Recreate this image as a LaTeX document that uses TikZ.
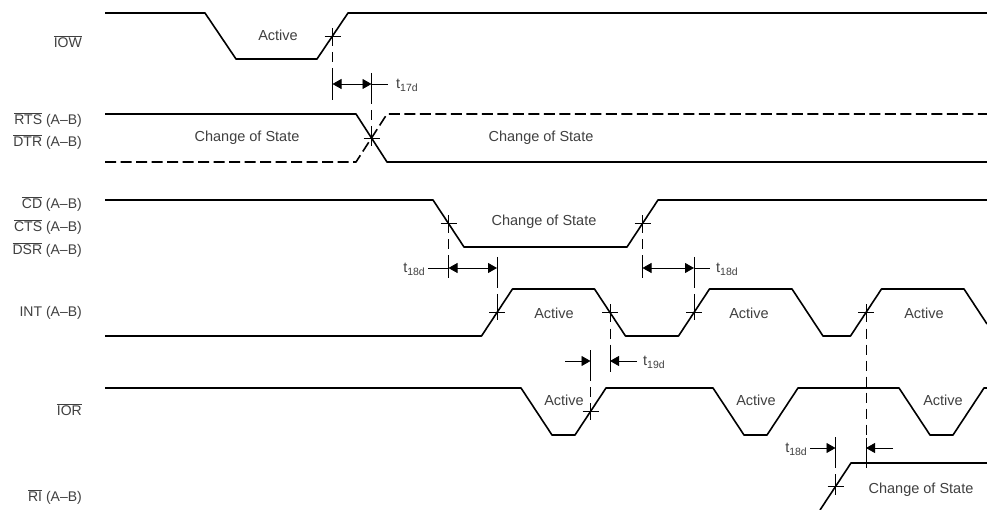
\documentclass[tikz,border=0pt]{standalone}
\usepackage{fontspec}
\setmainfont{Liberation Sans}
\usetikzlibrary{arrows.meta}

\tikzset{
  sig/.style={line width=1.6pt, line join=round},
  sigdash/.style={sig, dash pattern=on 11pt off 4.5pt},
  guide/.style={line width=0.8pt, dash pattern=on 10pt off 6pt},
  tick/.style={line width=0.8pt},
  dim/.style={line width=0.8pt, {Triangle[length=9pt,width=10pt]}-{Triangle[length=9pt,width=10pt]}},
  dimin/.style={line width=0.8pt, -{Triangle[length=9pt,width=10pt]}},
  sname/.style={anchor=east, text=black!75, inner sep=0pt, font=\fontsize{14}{16}\selectfont},
  stxt/.style={text=black!75, inner sep=0pt, font=\fontsize{14.5}{17}\selectfont},
  tlab/.style={text=black!75, inner sep=0pt, font=\fontsize{14.5}{17}\selectfont}
}
\newcommand{\ovl}[1]{$\overline{\mbox{#1}}$}
\newcommand{\tsub}[1]{t\raisebox{-0.45ex}{\fontsize{10.5}{12}\selectfont #1}}
\newcommand{\crossat}[1]{\draw[tick] (#1) +(-8,0) -- +(8,0) (#1) +(0,-8) -- +(0,8);}

\begin{document}
\begin{tikzpicture}[x=1pt,y=-1pt]
\fill[white] (0,0) rectangle (987,510);
\useasboundingbox (0,0) rectangle (987,510);

% signal names
\node[sname] (nIOW) at (82,42) {\ovl{IOW}};
\node[sname] (nRTS) at (82,120) {\ovl{RTS} (A--B)};
\node[sname] (nDTR) at (82,142) {\ovl{DTR} (A--B)};
\node[sname] (nCD) at (82,204) {\ovl{CD} (A--B)};
\node[sname] (nCTS) at (82,227) {\ovl{CTS} (A--B)};
\node[sname] (nDSR) at (82,250) {\ovl{DSR} (A--B)};
\node[sname] (nINT) at (82,313) {INT (A--B)};
\node[sname] (nIOR) at (82,410) {\ovl{IOR}};
\node[sname] (nRI) at (82,497) {\ovl{RI} (A--B)};

% IOW
\draw[sig] (105,13) -- (205,13) -- (236,59) -- (317,59) -- (348,13) -- (987,13);
\coordinate (iowX) at (332.5,36);
\node[stxt] (actW) at (278,35) {Active};

% RTS / DTR
\draw[sig] (105,114) -- (356,114) -- (387,162) -- (987,162);
\draw[sigdash] (105,162) -- (356,162) -- (387,114) -- (987,114);
\coordinate (rtsX) at (371.5,138);
\node[stxt] (cosA) at (247,138) {Change of State};
\node[stxt] (cosB) at (541,138) {Change of State};

% CD / CTS / DSR
\draw[sig] (105,200) -- (433,200) -- (464,247) -- (627,247) -- (658,200) -- (987,200);
\coordinate (cdF) at (448.5,223.5);
\coordinate (cdR) at (642.5,223.5);
\node[stxt] (cosC) at (544,222) {Change of State};

% INT
\draw[sig] (105,336) -- (481.5,336) -- (512.5,289) -- (594.5,289) -- (625.5,336) -- (678.5,336)
  -- (709.5,289) -- (792,289) -- (823,336) -- (850.5,336) -- (881.5,289) -- (964,289) -- (987,324);
\coordinate (int1) at (497,312.5);
\coordinate (int2) at (610,312.5);
\coordinate (int3) at (694,312.5);
\coordinate (int4) at (866,312.5);
\node[stxt] (actI1) at (554,313) {Active};
\node[stxt] (actI2) at (749,313) {Active};
\node[stxt] (actI3) at (924,313) {Active};

% IOR
\draw[sig] (105,388) -- (521,388) -- (552,435) -- (575,435) -- (606,388) -- (713,388) -- (744,435)
  -- (767,435) -- (798,388) -- (899,388) -- (930,435) -- (953,435) -- (984,388) -- (987,388);
\coordinate (ior1) at (590.5,411.5);
\node[stxt] (actR1) at (564,400) {Active};
\node[stxt] (actR2) at (756,400) {Active};
\node[stxt] (actR3) at (943,400) {Active};

% RI
\draw[sig] (820,510) -- (851,463) -- (987,463);
\coordinate (ri1) at (835.5,486.5);
\node[stxt] (cosD) at (921,490) {Change of State};

% crossing marks
\crossat{iowX}
\crossat{rtsX}
\crossat{cdF}
\crossat{cdR}
\crossat{int1}
\crossat{int2}
\crossat{int3}
\crossat{int4}
\crossat{ior1}
\crossat{ri1}

% t17d
\draw[guide] (iowX) -- (332.5,74);
\draw[tick] (332.5,74) -- (332.5,100);
\draw[tick] (371.5,73) -- (371.5,94);
\draw[guide] (371.5,94) -- (rtsX);
\draw[dim] (332.5,84) -- (371.5,84);
\draw[tick] (371.5,84) -- (388,84);
\node[tlab,anchor=base west] (t17) at (396,88.5) {\tsub{17d}};

% t18d, CD to INT falling
\draw[guide] (cdF) -- (448.5,258);
\draw[tick] (448.5,258) -- (448.5,278);
\draw[tick] (497,257) -- (497,278);
\draw[guide] (497,278) -- (int1);
\draw[dim] (448.5,268) -- (497,268);
\draw[tick] (428,268) -- (448.5,268);
\node[tlab,anchor=base east] (t18a) at (425,272.5) {\tsub{18d}};

% t18d, CD to INT rising
\draw[guide] (cdR) -- (642.5,258);
\draw[tick] (642.5,258) -- (642.5,278);
\draw[tick] (694,257) -- (694,278);
\draw[guide] (694,278) -- (int3);
\draw[dim] (642.5,268) -- (694,268);
\draw[tick] (694,268) -- (710,268);
\node[tlab,anchor=base west] (t18b) at (716,272.5) {\tsub{18d}};

% t19d
\draw[guide] (int2) -- (610,351);
\draw[tick] (610,351) -- (610,372);
\draw[tick] (590.5,350) -- (590.5,371);
\draw[guide] (590.5,371) -- (ior1);
\draw[dimin] (565,361) -- (590.5,361);
\draw[dimin] (637,361) -- (610,361);
\node[tlab,anchor=base west] (t19) at (643,365.5) {\tsub{19d}};

% t18d, RI to INT
\draw[tick] (835.5,437) -- (835.5,458);
\draw[guide] (835.5,458) -- (ri1);
\draw[guide] (int4) -- (866,438);
\draw[tick] (866,438) -- (866,468);
\draw[dimin] (810,448) -- (835.5,448);
\draw[dimin] (893,448) -- (866,448);
\node[tlab,anchor=base east] (t18c) at (807,452.5) {\tsub{18d}};
\end{tikzpicture}
\end{document}
